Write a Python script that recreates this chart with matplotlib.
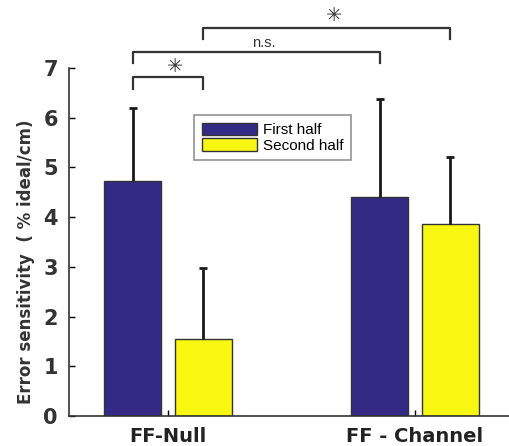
import numpy as np
import matplotlib.pyplot as plt

groups = ['FF-Null', 'FF - Channel']
first_half = [4.72, 4.40]
first_err = [1.48, 1.98]
second_half = [1.55, 3.87]
second_err = [1.42, 1.33]
yticks = [0, 1, 2, 3, 4, 5, 6, 7]

blue = '#332a85'
yellow = '#f7f712'

fig = plt.figure(figsize=(5.09, 4.46), dpi=100)
ax = fig.add_axes([69/509, 30/446, 440/509, 348/446])

x = np.arange(len(groups))
w = 0.23
off = 0.143
ax.bar(x - off, first_half, w, color=blue, edgecolor='#333333', linewidth=1,
       label='First half')
ax.bar(x + off, second_half, w, color=yellow, edgecolor='#333333', linewidth=1,
       label='Second half')

# upper error bars only
for xs, ys, es in [(x - off, first_half, first_err), (x + off, second_half, second_err)]:
    _, caps, _ = ax.errorbar(xs, ys, yerr=[np.zeros(2), es], fmt='none',
                             ecolor='#1a1a1a', elinewidth=2, capsize=3, capthick=2)
    caps[0].set_visible(False)

ax.set_xlim(-0.401, 1.381)
ax.set_ylim(0, 7)
ax.set_yticks(yticks)
ax.set_yticklabels([str(t) for t in yticks], fontsize=15, fontweight='bold', color='#333333')
ax.set_xticks(x)
ax.set_xticklabels(groups, fontsize=14, fontweight='bold', color='#222222')
ax.tick_params(axis='y', direction='in', length=4, width=1, pad=8)
ax.tick_params(axis='x', direction='in', length=4, width=1, pad=8)
for s in ['top', 'right']:
    ax.spines[s].set_visible(False)
ax.spines['left'].set_color('#333333')
ax.spines['bottom'].set_color('#333333')
ax.spines['left'].set_linewidth(1.2)
ax.spines['bottom'].set_linewidth(1.2)
ax.set_ylabel('Error sensitivity  ( % ideal/cm)', fontsize=12, fontweight='bold',
              color='#333333')
ax.yaxis.set_label_coords(-0.078, 0.443)

# significance brackets
def bracket(x0, x1, y, h, text, ty, fs, family='DejaVu Sans'):
    ax.plot([x0, x0, x1, x1], [y - h, y, y, y - h], color='#333333', lw=1.6,
            clip_on=False)
    ax.text((x0 + x1) / 2 + 0.03, ty, text, ha='center', va='center', fontsize=fs,
            color='#333333', family=family)

bracket(-off, off, 6.82, 0.24, '✳', 7.04, 14)
bracket(-off, 1 - off, 7.32, 0.22, 'n.s.', 7.5, 10.5, family='Liberation Sans')
bracket(off, 1 + off, 7.81, 0.22, '✳', 8.05, 14)

leg = ax.legend(loc='upper left', bbox_to_anchor=(0.284, 0.865), borderaxespad=0,
                frameon=True, fancybox=False, edgecolor='#777777', handlelength=3.6,
                handleheight=0.9, handletextpad=0.4, labelspacing=0.05,
                borderpad=0.5, prop={'family': 'Liberation Sans', 'size': 11})
leg.get_frame().set_linewidth(1.2)

fig.savefig('out.png', dpi=100)
